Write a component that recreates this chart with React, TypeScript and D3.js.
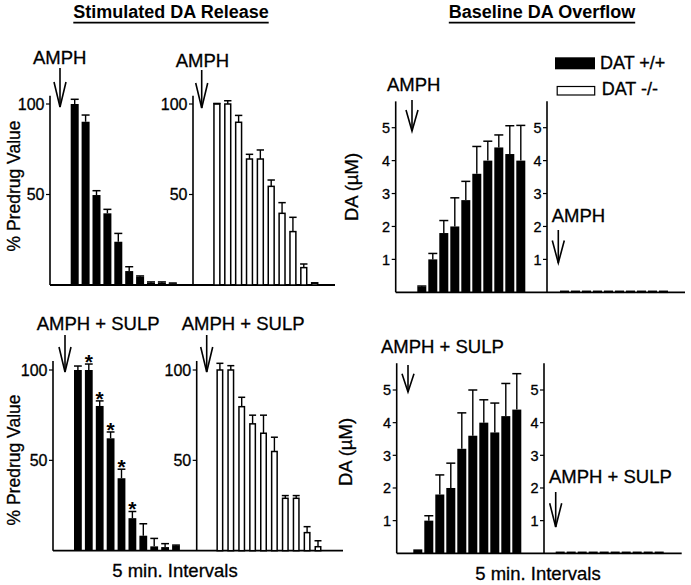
import React, { useEffect, useRef } from "react";
import * as d3 from "d3";

// ---------- data ----------
const intervals = [1, 2, 3, 4, 5, 6, 7, 8, 9, 10];
const pctTicks = [50, 100];
const daTicks = [1, 2, 3, 4, 5];

// Stimulated DA release (% predrug value), AMPH
const amphWtMean = [100, 90.2, 49.7, 39.6, 23.9, 7.7, 4.6, 1.3, 1.3, 0.9];
const amphWtErr = [2.6, 3.7, 2.4, 2.2, 4.6, 2.4, 0.4, 0.4, 0.4, 0.2];
const amphKoMean = [100, 100, 89.9, 69.6, 69.6, 54.5, 39.6, 29.5, 9.6, 1.0];
const amphKoErr = [0.3, 1.8, 3.8, 2.6, 5.0, 3.5, 5.9, 7.9, 2.0, 0.2];

// Stimulated DA release (% predrug value), AMPH + SULP
const sulpWtMean = [100, 100, 80.1, 62.2, 40.1, 18.0, 8.3, 2.4, 2.0, 2.8];
const sulpWtErr = [2.2, 3.3, 2.8, 3.5, 5.0, 3.7, 6.6, 4.4, 1.9, 0.3];
const sulpWtStar = [false, true, true, true, true, true, false, false, false, false];
const sulpKoMean = [100, 100, 79.7, 70.2, 65.0, 54.9, 29.0, 29.0, 10.0, 2.2];
const sulpKoErr = [3.7, 2.4, 5.2, 4.8, 10.0, 7.9, 1.5, 1.5, 3.3, 3.3];

// Baseline DA overflow (µM), AMPH
const daAmphWtMean = [0.17, 1.0, 1.8, 2.0, 2.8, 3.6, 4.0, 4.4, 4.2, 4.0];
const daAmphWtErr = [0.02, 0.18, 0.38, 0.87, 0.57, 0.83, 0.59, 0.38, 0.86, 1.07];
const daAmphKoMean = [0.03, 0.03, 0.03, 0.03, 0.03, 0.03, 0.03, 0.03, 0.03, 0.03];
const daAmphKoErr = [0, 0, 0, 0, 0, 0, 0, 0, 0, 0];

// Baseline DA overflow (µM), AMPH + SULP
const daSulpWtMean = [0.12, 1.0, 1.8, 2.0, 3.2, 3.6, 4.0, 3.7, 4.2, 4.4];
const daSulpWtErr = [0.0, 0.15, 0.6, 0.76, 1.1, 1.4, 0.7, 0.9, 1.0, 1.1];
const daSulpKoMean = [0.03, 0.03, 0.03, 0.03, 0.03, 0.03, 0.03, 0.03, 0.03, 0.03];
const daSulpKoErr = [0, 0, 0, 0, 0, 0, 0, 0, 0, 0];

const titles = ["Stimulated DA Release", "Baseline DA Overflow"];
const legendLabels = ["DAT +/+", "DAT -/-"];
const drugLabels = ["AMPH", "AMPH + SULP"];
const xTitle = "5 min. Intervals";
const yTitles = ["% Predrug Value", "DA (µM)"];

const W = 691;
const H = 585;
const FONT = "'Liberation Sans', Arial, Helvetica, sans-serif";

export default function App() {
  const ref = useRef<SVGSVGElement>(null);

  useEffect(() => {
    const svg = d3.select(ref.current);
    svg.selectAll("*").remove();
    svg.append("rect").attr("width", W).attr("height", H).attr("fill", "#fff");
    const g = svg.append("g").attr("font-family", FONT).attr("fill", "#000");
    const txt = (sel: d3.Selection<SVGTextElement, unknown, null, undefined>) =>
      sel.attr("stroke", "#000").attr("stroke-width", 0.3);

    type Sub = {
      x0: number; step: number; bw: number; vals: number[]; errs: number[];
      filled: boolean; stars?: boolean[];
      label: string; lx: number; ly: number; ax: number; ay1: number; ay2: number;
    };
    type Panel = {
      y: d3.ScaleLinear<number, number>; axisXs: number[]; xEnd: number; topVal: number;
      ticks: number[]; tickFont: number; subs: Sub[];
    };

    const panels: Panel[] = [
      {
        y: d3.scaleLinear().domain([0, 100]).range([285, 104]),
        axisXs: [50, 193], xEnd: 335, topVal: 104.5, ticks: pctTicks, tickFont: 16,
        subs: [
          { x0: 70.7, step: 10.9, bw: 8, vals: amphWtMean, errs: amphWtErr, filled: true,
            label: drugLabels[0], lx: 33, ly: 64.3, ax: 60, ay1: 68, ay2: 107 },
          { x0: 213.2, step: 10.86, bw: 7.4, vals: amphKoMean, errs: amphKoErr, filled: false,
            label: drugLabels[0], lx: 175.7, ly: 66.7, ax: 201.7, ay1: 70, ay2: 108 },
        ],
      },
      {
        y: d3.scaleLinear().domain([0, 100]).range([550.7, 370]),
        axisXs: [53, 196.7], xEnd: 343, topVal: 105, ticks: pctTicks, tickFont: 16,
        subs: [
          { x0: 74, step: 10.9, bw: 7.8, vals: sulpWtMean, errs: sulpWtErr, filled: true, stars: sulpWtStar,
            label: drugLabels[1], lx: 36.7, ly: 330, ax: 65, ay1: 335, ay2: 372 },
          { x0: 216.4, step: 10.9, bw: 7, vals: sulpKoMean, errs: sulpKoErr, filled: false,
            label: drugLabels[1], lx: 181.7, ly: 330, ax: 206.7, ay1: 335, ay2: 372 },
        ],
      },
      {
        y: d3.scaleLinear().domain([0, 5]).range([292.3, 127.7]),
        axisXs: [395.7, 547], xEnd: 685, topVal: 5.8, ticks: daTicks, tickFont: 14.5,
        subs: [
          { x0: 417.3, step: 11, bw: 9, vals: daAmphWtMean, errs: daAmphWtErr, filled: true,
            label: drugLabels[0], lx: 387, ly: 90.7, ax: 412, ay1: 100, ay2: 131 },
          { x0: 560, step: 11, bw: 9, vals: daAmphKoMean, errs: daAmphKoErr, filled: false,
            label: drugLabels[0], lx: 551.7, ly: 221.7, ax: 558.3, ay1: 230, ay2: 263 },
        ],
      },
      {
        y: d3.scaleLinear().domain([0, 5]).range([553.3, 390]),
        axisXs: [396.7, 544], xEnd: 681.7, topVal: 5.82, ticks: daTicks, tickFont: 14.5,
        subs: [
          { x0: 413.3, step: 11, bw: 9, vals: daSulpWtMean, errs: daSulpWtErr, filled: true,
            label: drugLabels[1], lx: 381, ly: 353.3, ax: 408, ay1: 365, ay2: 392 },
          { x0: 555.7, step: 11, bw: 9, vals: daSulpKoMean, errs: daSulpKoErr, filled: false,
            label: drugLabels[1], lx: 549, ly: 483.3, ax: 555.7, ay1: 492, ay2: 527 },
        ],
      },
    ];

    const drawArrow = (x: number, y1: number, y2: number) => {
      const hl = Math.min(25, (y2 - y1) * 0.68);
      g.append("line").attr("x1", x).attr("x2", x).attr("y1", y1).attr("y2", y2)
        .attr("stroke", "#000").attr("stroke-width", 1.6);
      g.append("path")
        .attr("d", `M${x - 6},${y2 - hl}L${x},${y2}L${x + 6},${y2 - hl}`)
        .attr("fill", "none").attr("stroke", "#000").attr("stroke-width", 1.6);
    };

    panels.forEach((p) => {
      const y = p.y;
      const base = y(0);
      g.append("line").attr("x1", p.axisXs[0]).attr("x2", p.xEnd).attr("y1", base).attr("y2", base)
        .attr("stroke", "#000").attr("stroke-width", 1.8);
      p.axisXs.forEach((ax) => {
        g.append("line").attr("x1", ax).attr("x2", ax).attr("y1", y(p.topVal)).attr("y2", base)
          .attr("stroke", "#000").attr("stroke-width", 1.6);
        p.ticks.forEach((t) => {
          g.append("line").attr("x1", ax - 4).attr("x2", ax).attr("y1", y(t)).attr("y2", y(t))
            .attr("stroke", "#000").attr("stroke-width", 1.2);
          txt(g.append("text").attr("x", ax - 5.5).attr("y", y(t)).attr("dy", "0.36em")
            .attr("text-anchor", "end").attr("font-size", p.tickFont).text(String(t)));
        });
      });
      p.subs.forEach((s) => {
        const xs = d3.scaleLinear().domain([1, 10]).range([s.x0, s.x0 + 9 * s.step]);
        intervals.forEach((iv, i) => {
          const v = s.vals[i];
          const e = s.errs[i];
          const left = xs(iv);
          const cx = left + s.bw / 2;
          if (s.filled) {
            g.append("rect").attr("x", left).attr("y", y(v)).attr("width", s.bw)
              .attr("height", base - y(v)).attr("fill", "#000");
          } else {
            g.append("rect").attr("x", left + 0.75).attr("y", y(v)).attr("width", s.bw - 1.5)
              .attr("height", Math.max(0.5, base - y(v))).attr("fill", "#fff")
              .attr("stroke", "#000").attr("stroke-width", 1.5);
          }
          if (e > 0) {
            g.append("line").attr("x1", cx).attr("x2", cx).attr("y1", y(v)).attr("y2", y(v + e))
              .attr("stroke", "#000").attr("stroke-width", 1.4);
            g.append("line").attr("x1", left).attr("x2", left + s.bw).attr("y1", y(v + e)).attr("y2", y(v + e))
              .attr("stroke", "#000").attr("stroke-width", 1.5);
          }
          if (s.stars && s.stars[i]) {
            g.append("text").attr("x", cx).attr("y", y(v + e) + 5).attr("text-anchor", "middle")
              .attr("font-size", 21).attr("font-weight", "bold").text("*");
          }
        });
        txt(g.append("text").attr("x", s.lx).attr("y", s.ly).attr("font-size", 18.5).text(s.label));
        drawArrow(s.ax, s.ay1, s.ay2);
      });
    });

    const titlePos = [
      { x: 171, y: 18.3 },
      { x: 542, y: 18.3 },
    ];
    titles.forEach((t, i) => {
      const tx = g.append("text").attr("x", titlePos[i].x).attr("y", titlePos[i].y)
        .attr("text-anchor", "middle").attr("font-size", 18).attr("font-weight", "bold").text(t);
      const node = tx.node() as SVGTextElement;
      const len = node.getComputedTextLength();
      g.append("line").attr("x1", titlePos[i].x - len / 2).attr("x2", titlePos[i].x + len / 2)
        .attr("y1", 22.6).attr("y2", 22.6).attr("stroke", "#000").attr("stroke-width", 1.6);
    });

    const yTitlePos = [
      { x: 19.5, y: 186, t: yTitles[0], fs: 17.5 },
      { x: 20, y: 460, t: yTitles[0], fs: 17.5 },
      { x: 357.5, y: 187, t: yTitles[1], fs: 18.5 },
      { x: 352, y: 452, t: yTitles[1], fs: 18.5 },
    ];
    yTitlePos.forEach((p) => {
      txt(g.append("text").attr("transform", `translate(${p.x},${p.y}) rotate(-90)`)
        .attr("text-anchor", "middle").attr("font-size", p.fs).text(p.t));
    });

    txt(g.append("text").attr("x", 175).attr("y", 577).attr("text-anchor", "middle").attr("font-size", 18.5).text(xTitle));
    txt(g.append("text").attr("x", 538).attr("y", 580).attr("text-anchor", "middle").attr("font-size", 18.5).text(xTitle));

    g.append("rect").attr("x", 555).attr("y", 57.3).attr("width", 40).attr("height", 12).attr("fill", "#000");
    txt(g.append("text").attr("x", 600).attr("y", 69.3).attr("font-size", 18).text(legendLabels[0]));
    g.append("rect").attr("x", 557.2).attr("y", 86.5).attr("width", 37.5).attr("height", 8.5)
      .attr("fill", "#fff").attr("stroke", "#000").attr("stroke-width", 1.2);
    txt(g.append("text").attr("x", 601.7).attr("y", 95).attr("font-size", 18).text(legendLabels[1]));
  }, []);

  return (
    <div style={{ position: "absolute", left: 0, top: 0 }}>
      <svg ref={ref} width={W} height={H} style={{ display: "block" }} />
    </div>
  );
}
